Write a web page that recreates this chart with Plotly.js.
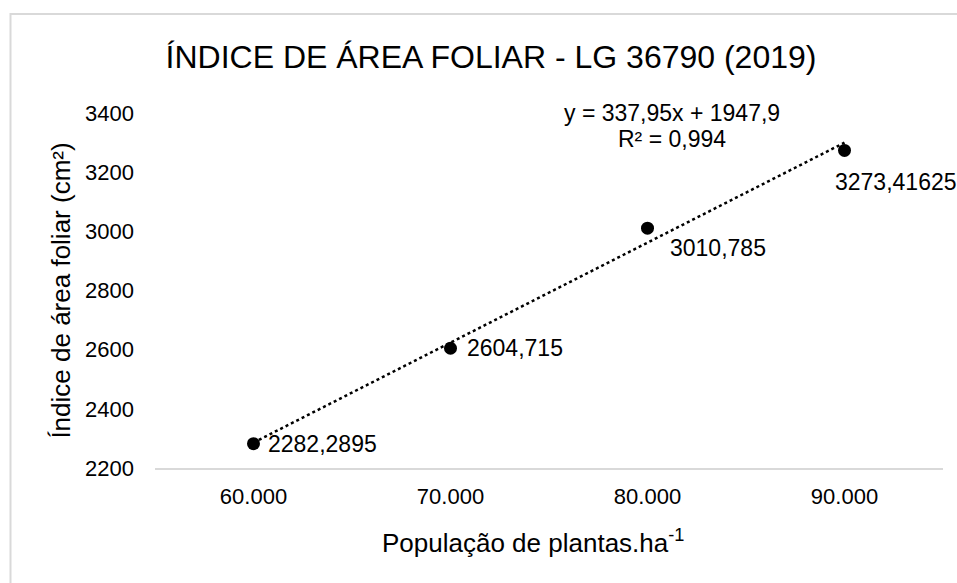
<!DOCTYPE html>
<html>
<head>
<meta charset="utf-8">
<script src="https://cdn.plot.ly/plotly-3.0.1.min.js"></script>
<style>html,body{margin:0;padding:0;background:#fff;}#chart{width:957px;height:583px;}</style>
</head>
<body>
<div id="chart"></div>
<script>
// ---- data ----
var categories = ["60.000", "70.000", "80.000", "90.000"];
var xPos = [1, 2, 3, 4];
var values = [2282.2895, 2604.715, 3010.785, 3273.41625];
var valueLabels = ["2282,2895", "2604,715", "3010,785", "3273,41625"];
var trendX = [1, 4];
var trendY = [2285.85, 3299.70];
var equationLines = ["y = 337,95x + 1947,9", "R² = 0,994"];
var yTicks = [2200, 2400, 2600, 2800, 3000, 3200, 3400];

// ---- styling ----
var FONT = "Liberation Sans, Arial, sans-serif";
var labelOffsets = [[12, 0], [14, 0], [20, -20], [-12, -32]];

var L = 155, R = 14, T = 113, B = 115, W = 957, H = 583;
var pw = W - L - R, ph = H - T - B;
function px(x) { return (x - L) / pw; }
function py(y) { return (H - B - y) / ph; }

var annotations = values.map(function (v, i) {
  return {
    x: xPos[i], y: v, xref: "x", yref: "y",
    text: valueLabels[i], showarrow: false,
    xanchor: "left", yanchor: "middle",
    xshift: labelOffsets[i][0], yshift: labelOffsets[i][1],
    font: { family: FONT, size: 23, color: "#000" }
  };
});
annotations.push({
  x: px(672), y: py(113), xref: "paper", yref: "paper",
  text: equationLines[0], showarrow: false, xanchor: "center", yanchor: "middle",
  font: { family: FONT, size: 23, color: "#000" }
});
annotations.push({
  x: px(672), y: py(139), xref: "paper", yref: "paper",
  text: equationLines[1], showarrow: false, xanchor: "center", yanchor: "middle",
  font: { family: FONT, size: 23, color: "#000" }
});
annotations.push({
  x: px(533), y: py(541), xref: "paper", yref: "paper",
  text: "População de plantas.ha<sup>-1</sup>", showarrow: false, xanchor: "center", yanchor: "middle",
  font: { family: FONT, size: 26, color: "#000" }
});

var traces = [
  {
    x: trendX, y: trendY, type: "scatter", mode: "lines",
    line: { color: "#000", width: 2.5, dash: "dot" },
    hoverinfo: "skip", showlegend: false
  },
  {
    x: xPos, y: values, type: "scatter", mode: "markers",
    marker: { color: "#000", size: 13 },
    showlegend: false
  }
];

var layout = {
  width: W, height: H,
  margin: { l: L, r: R, t: T, b: B, pad: 0 },
  paper_bgcolor: "#fff", plot_bgcolor: "#fff",
  showlegend: false,
  title: {
    text: "ÍNDICE DE ÁREA FOLIAR - LG 36790 (2019)",
    font: { family: FONT, size: 32, color: "#000" },
    x: 491 / W, xref: "container", xanchor: "center",
    y: 1 - 57 / H, yref: "container", yanchor: "middle"
  },
  xaxis: {
    range: [0.5, 4.5], tickvals: xPos, ticktext: categories,
    showgrid: false, zeroline: false, showline: true,
    linecolor: "#d9d9d9", linewidth: 2, ticks: "",
    tickfont: { family: FONT, size: 22, color: "#000" },
    ticklabelstandoff: 8,
    fixedrange: true
  },
  yaxis: {
    range: [2200, 3400], tickvals: yTicks,
    showgrid: false, zeroline: false, showline: false, ticks: "",
    tickfont: { family: FONT, size: 22, color: "#000" },
    ticklabelstandoff: 20,
    title: { text: "Índice de área foliar (cm²)", font: { family: FONT, size: 26, color: "#000" }, standoff: 6 },
    fixedrange: true
  },
  annotations: annotations,
  shapes: [
    {
      type: "path", xref: "paper", yref: "paper",
      path: "M " + px(10.5) + " " + py(590) + " L " + px(10.5) + " " + py(14) + " L " + px(965) + " " + py(14),
      line: { color: "#d9d9d9", width: 2 }
    }
  ]
};

Plotly.newPlot("chart", traces, layout, { displayModeBar: false, staticPlot: true });
</script>
</body>
</html>
